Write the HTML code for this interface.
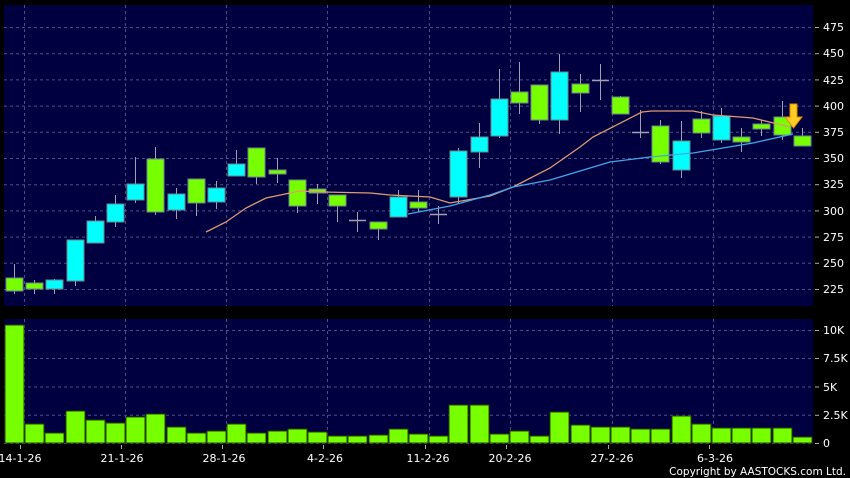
<!DOCTYPE html>
<html><head><meta charset="utf-8"><style>
html,body{margin:0;padding:0;background:#000;width:850px;height:478px;overflow:hidden}
svg{display:block}
text{font-family:"DejaVu Sans","Liberation Sans",sans-serif;font-size:11px;fill:#fff}
</style></head><body>
<svg id="s" width="850" height="478" xmlns="http://www.w3.org/2000/svg">
<rect x="0" y="0" width="850" height="478" fill="#000"/>
<rect x="4" y="5" width="809" height="301" fill="#000040"/>
<rect x="4" y="319" width="809" height="124" fill="#000040"/>
<g id="grid"></g>
<g id="shapes"></g>
<g>
<text x="823" y="31">475</text><text x="823" y="57">450</text><text x="823" y="84">425</text>
<text x="823" y="110">400</text><text x="823" y="136">375</text><text x="823" y="162">350</text>
<text x="823" y="188">325</text><text x="823" y="215">300</text><text x="823" y="241">275</text>
<text x="823" y="267">250</text><text x="823" y="293">225</text>
<text x="823" y="334">10K</text><text x="823" y="362">7.5K</text><text x="823" y="391">5K</text>
<text x="823" y="419">2.5K</text><text x="823" y="447">0</text>
<text x="20" y="462" text-anchor="middle">14-1-26</text>
<text x="122" y="462" text-anchor="middle">21-1-26</text>
<text x="224" y="462" text-anchor="middle">28-1-26</text>
<text x="325" y="462" text-anchor="middle">4-2-26</text>
<text x="428" y="462" text-anchor="middle">11-2-26</text>
<text x="510" y="462" text-anchor="middle">20-2-26</text>
<text x="612" y="462" text-anchor="middle">27-2-26</text>
<text x="715" y="462" text-anchor="middle">6-3-26</text>
<text x="846" y="475" text-anchor="end" style="font-size:10.5px">Copyright by AASTOCKS.com Ltd.</text>
</g>
</svg>
<script>
var NS="http://www.w3.org/2000/svg";
function el(p,t,a){var e=document.createElementNS(NS,t);for(var k in a)e.setAttribute(k,a[k]);p.appendChild(e);return e;}
var g=document.getElementById("grid"),sh=document.getElementById("shapes");
var GC="#4c4c8c";
var hy=[27,53.2,79.4,105.6,131.8,158,184.2,210.4,236.6,262.8,289];
hy.forEach(function(y){el(g,"line",{x1:4,x2:813,y1:y+.5,y2:y+.5,stroke:GC,"stroke-dasharray":"3,3"});el(g,"line",{x1:815,x2:819,y1:y+.5,y2:y+.5,stroke:"#aaa"});});
[330,358,386.5,414.8,443].forEach(function(y){el(g,"line",{x1:4,x2:813,y1:y+.5,y2:y+.5,stroke:GC,"stroke-dasharray":"3,3"});el(g,"line",{x1:815,x2:819,y1:y+.5,y2:y+.5,stroke:"#aaa"});});
[24,125,226,327,429,510,612,713].forEach(function(x){
 el(g,"line",{x1:x+.5,x2:x+.5,y1:5,y2:306,stroke:GC,"stroke-dasharray":"3,3"});
 el(g,"line",{x1:x+.5,x2:x+.5,y1:319,y2:443,stroke:GC,"stroke-dasharray":"3,3"});
 el(g,"line",{x1:x-3.5,x2:x-3.5,y1:445,y2:449,stroke:"#aaa"});
});
var C=[
['g',278,291,264,294],['g',283,289,280,294],['c',280,289,279,294],['c',240,281,240,286],['c',221,243,216,243],
['c',204,222,195,227],['c',184,200,157,203],['g',159,212,147,215],['c',194,210,188,219],['g',179,203,179,216],
['c',188,202,181,209],['c',164,176,150,176],['g',148,177,148,184],['g',170,174,158,183],['g',180,206,180,213],
['g',189,193,184,204],['g',195,206,195,222],['x',220,220,212,232],['g',222,229,222,240],['c',197,217,190,217],
['g',202,208,190,212],['x',214,214,206,224],['c',151,197,148,204],['c',137,152,123,168],['c',99,136,69,138],
['g',92,103,62,114],['g',85,120,85,124],['c',72,120,54,134],['g',84,93,74,112],['x',80,80,64,100],
['g',97,114,96,114],['x',132,132,110,138],['g',126,162,120,164],['c',141,170,121,178],['g',119,133,111,138],
['c',116,140,108,143],['g',137,142,128,152],['g',124,129,120,136],['g',117,135,101,140],['g',136,146,128,146]];
var V=[325,424,433,411,420,423,417,414,427,433,431,424,433,431,429,432,436,436,435,429,434,436,405,405,434,431,436,412,425,427,427,429,429,416,424,428,428,428,428,437];
C.forEach(function(c,i){
 var x=Math.round(14+20.2*i);
 el(sh,"line",{x1:x+.5,x2:x+.5,y1:c[3],y2:c[4],stroke:"#a0a0b0"});
 if(c[0]=='x'){el(sh,"line",{x1:x-8,x2:x+9,y1:c[1]+.5,y2:c[1]+.5,stroke:"#a0a0b0","stroke-width":1.5});}
 else el(sh,"rect",{x:x-8,y:c[1],width:17,height:Math.max(c[2]-c[1],3),fill:c[0]=='g'?"#77ff00":"#00ffff",stroke:"#6a8a8a","stroke-width":1});
 el(sh,"rect",{x:x-9,y:V[i],width:19,height:443-V[i],fill:"#77ff00",stroke:"#224400","stroke-width":1});
});
el(sh,"polyline",{points:"206,232 226,222 246,208 266,198 290,193 300,191 323,192 370,193 390,195 430,197 450,203 490,196 513,187 550,168 580,147 593,137 642,112 652,111 693,111 713,115 753,118 790,127",fill:"none",stroke:"#e09a70","stroke-width":1.3});
el(sh,"polyline",{points:"408,214 450,206 490,195 513,187 550,180 580,171 590,168 610,162 650,157 693,153 753,143 793,134",fill:"none",stroke:"#40a8e8","stroke-width":1.3});
el(sh,"polygon",{points:"790,104 797,104 797,117 802,117 793.5,128 785,117 790,117",fill:"#ffcc22",stroke:"#e08800","stroke-width":1});
</script>
</body></html>
